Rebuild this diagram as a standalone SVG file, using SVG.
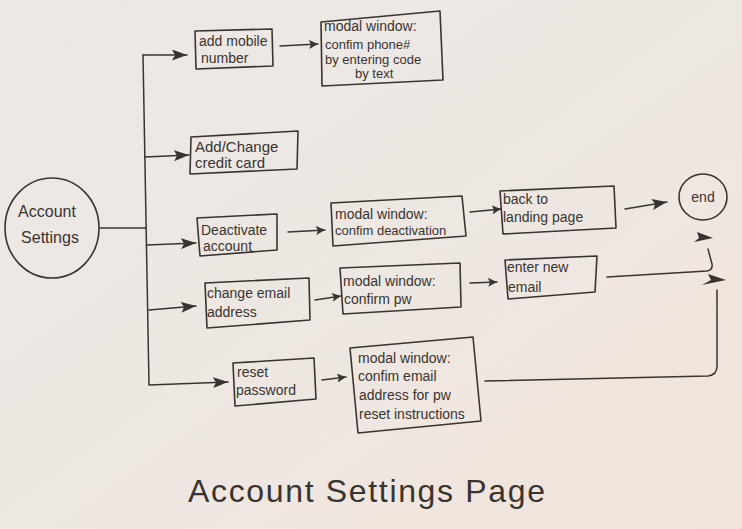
<svg xmlns="http://www.w3.org/2000/svg" width="742" height="529" viewBox="0 0 742 529">
<defs>
<linearGradient id="paper" x1="0" y1="0" x2="1" y2="1">
<stop offset="0" stop-color="#EBE8E5"/>
<stop offset="0.6" stop-color="#EEE7E1"/>
<stop offset="1" stop-color="#F2E4DA"/>
</linearGradient>
<marker id="big" markerUnits="userSpaceOnUse" markerWidth="15" markerHeight="11" refX="15" refY="5.5" orient="auto">
<path d="M0,0 L15,5.5 L0,11 L3,5.5 z" fill="#3a3430"/>
</marker>
<marker id="small" markerUnits="userSpaceOnUse" markerWidth="9" markerHeight="9" refX="9" refY="4.5" orient="auto">
<path d="M0,0 L9,4.5 L0,9 L2,4.5 z" fill="#3a3430"/>
</marker>
</defs>
<style>
.box{fill:none;stroke:#3a3430;stroke-width:1.6;stroke-linejoin:round}
.ln{fill:none;stroke:#3a3430;stroke-width:1.5;stroke-linecap:round;stroke-linejoin:round}
.big{marker-end:url(#big)}
.sm{marker-end:url(#small)}
.t{font-family:"Liberation Sans","DejaVu Sans",sans-serif;font-size:14px;fill:#3a3430}
.ah{fill:#3a3430}
</style>
<rect width="742" height="529" fill="url(#paper)"/>

<g id="connectors">
<path class="ln" d="M100,228 L146,228"/>
<path class="ln big" d="M143,55 L149,385 L228,382"/>
<path class="ln big" d="M143,55 L187,55"/>
<path class="ln big" d="M145,157 L189,155"/>
<path class="ln big" d="M147,245 L196,243"/>
<path class="ln big" d="M149,310 L196,306"/>
<path class="ln sm" d="M280,46 L318,44"/>
<path class="ln sm" d="M288,232 L325,230"/>
<path class="ln sm" d="M470,212 L501,209"/>
<path class="ln big" d="M625,209 L667,202"/>
<path class="ln sm" d="M315,300 L341,296"/>
<path class="ln sm" d="M470,283 L497,282"/>
<path class="ln" d="M607,277 L707,271 Q713,270 712,264 L708,249"/>
<polygon class="ah" points="694,242 713,238 697,232 699,238"/>
<path class="ln sm" d="M322,380 L346,377"/>
<path class="ln" d="M485,381 L708,376 Q717,375 717,366 L717,290"/>
<polygon class="ah" points="702,285 726,280 708,274 711,280"/>
</g>

<g id="account-settings">
<ellipse class="box" cx="52" cy="228" rx="47" ry="50"/>
<text class="t" x="47" y="217" text-anchor="middle" style="font-size:16px">Account</text>
<text class="t" x="50" y="243" text-anchor="middle" style="font-size:16px">Settings</text>
</g>

<g id="add-mobile">
<polygon class="box" points="195,31 272,29 273,66 196,69"/>
<text class="t" x="199" y="46">add mobile</text>
<text class="t" x="201" y="63">number</text>
</g>

<g id="modal-phone">
<polygon class="box" points="321,22 440,11 443,80 322,86"/>
<text class="t" x="324" y="31">modal window:</text>
<text class="t" x="325" y="49" style="font-size:13px">confim phone#</text>
<text class="t" x="325" y="64" style="font-size:13px">by entering code</text>
<text class="t" x="355" y="78" style="font-size:13px">by text</text>
</g>

<g id="credit-card">
<polygon class="box" points="191,137 298,131 297,169 190,174"/>
<text class="t" x="195" y="152" style="font-size:15px">Add/Change</text>
<text class="t" x="195" y="168" style="font-size:15px">credit card</text>
</g>

<g id="deactivate">
<polygon class="box" points="197,218 277,214 277,250 200,256"/>
<text class="t" x="201" y="235">Deactivate</text>
<text class="t" x="203" y="251">account</text>
</g>

<g id="modal-deactivation">
<polygon class="box" points="331,203 462,196 466,236 333,246"/>
<text class="t" x="335" y="219">modal window:</text>
<text class="t" x="335" y="235" style="font-size:13px">confim deactivation</text>
</g>

<g id="back-to-landing">
<polygon class="box" points="500,191 614,186 616,228 503,234"/>
<text class="t" x="503" y="204">back to</text>
<text class="t" x="503" y="222">landing page</text>
</g>

<g id="end">
<ellipse class="box" cx="703" cy="197" rx="24" ry="23"/>
<text class="t" x="703" y="202" text-anchor="middle">end</text>
</g>

<g id="change-email">
<polygon class="box" points="205,283 309,278 310,320 207,328"/>
<text class="t" x="207" y="298">change email</text>
<text class="t" x="207" y="317">address</text>
</g>

<g id="modal-pw">
<polygon class="box" points="340,268 460,263 461,307 343,314"/>
<text class="t" x="343" y="286">modal window:</text>
<text class="t" x="344" y="304">confirm pw</text>
</g>

<g id="enter-new-email">
<polygon class="box" points="505,260 597,256 595,292 508,299"/>
<text class="t" x="507" y="272">enter new</text>
<text class="t" x="508" y="292">email</text>
</g>

<g id="reset-password">
<polygon class="box" points="233,363 314,358 316,399 235,406"/>
<text class="t" x="237" y="377">reset</text>
<text class="t" x="236" y="395">password</text>
</g>

<g id="modal-reset">
<polygon class="box" points="350,348 473,337 481,421 358,433"/>
<text class="t" x="358" y="363">modal window:</text>
<text class="t" x="358" y="381">confim email</text>
<text class="t" x="359" y="400">address for pw</text>
<text class="t" x="359" y="419">reset instructions</text>
</g>

<g id="title">
<text class="t" x="188" y="502" textLength="357" lengthAdjust="spacing" style="font-size:32px">Account Settings Page</text>
</g>
</svg>
